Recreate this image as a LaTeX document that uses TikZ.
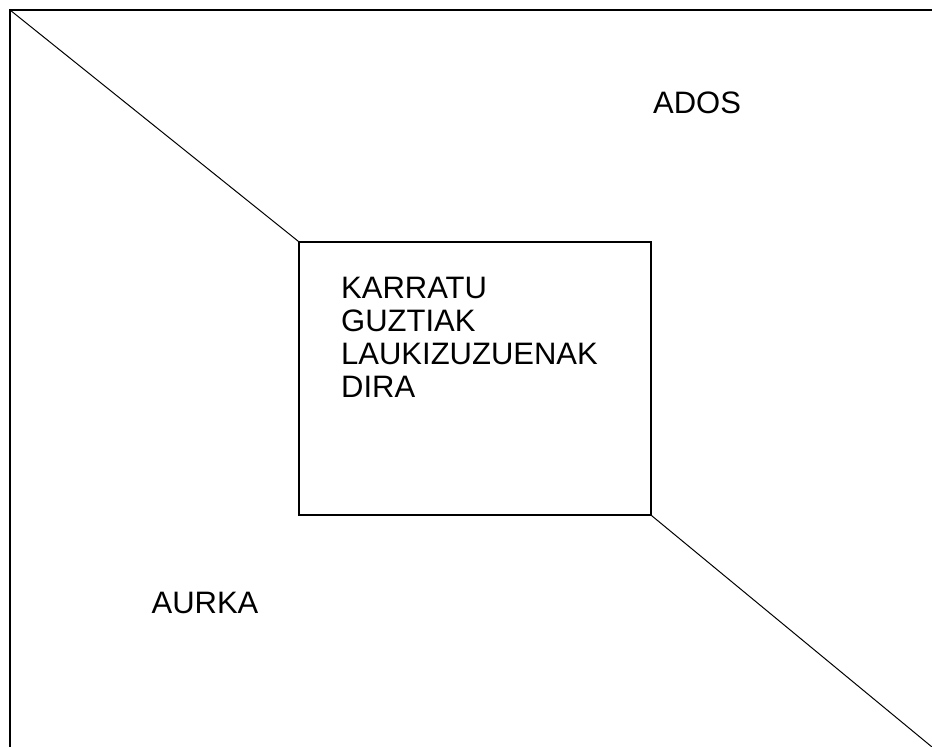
\documentclass[tikz,border=0pt]{standalone}
\usepackage{fontspec}
\setmainfont{Liberation Sans}
\usetikzlibrary{positioning}

\begin{document}
\begin{tikzpicture}[
        x=1pt, y=-1pt,
        font=\fontsize{31}{33}\selectfont,
        frame/.style={line width=1.6pt},
        square/.style={draw, line width=1.3pt, minimum width=352pt, minimum height=273pt, inner sep=0pt},
        diag/.style={line width=1pt},
        label/.style={inner sep=0pt}
        ]
        % --- page size (pixels of the reference) ---
        \useasboundingbox (0,0) rectangle (932,747);
        
        % Outer frame corners
        \coordinate (tl) at (10,10);
        \coordinate (tr) at (932,10);
        \coordinate (bl) at (10,747);
        \coordinate (br) at (932,747);
        
        % Middle square
        \node[square] (box) at (475,378.5) {};
        \node[label, align=left, anchor=north west] (claim) at (341,277) {KARRATU\\GUZTIAK\\LAUKIZUZUENAK\\DIRA};
        
        % Corner labels
        \node[label] (ados)  at (697,103) {ADOS};
        \node[label] (aurka) at (205,603) {AURKA};
        
        % Lines
        \draw[frame] (tr) -- (tl) -- (bl);
        \draw[diag] (tl) -- (box.north west);
        \draw[diag] (box.south east) -- (br);
        
    \end{tikzpicture}
\end{document}
